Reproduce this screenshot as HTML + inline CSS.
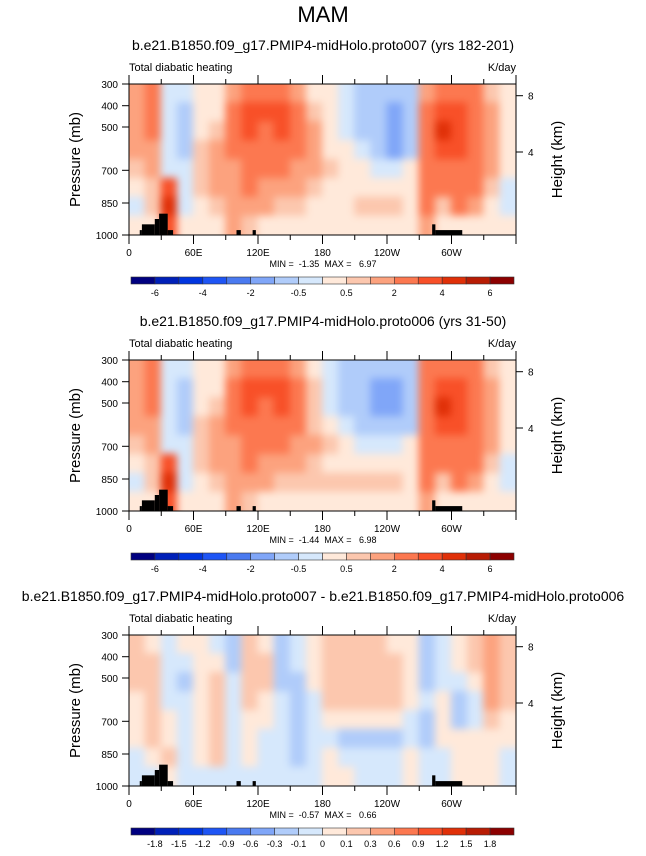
<!DOCTYPE html>
<html><head><meta charset="utf-8"><style>
body{margin:0;background:#fff;font-family:"Liberation Sans",Arial,sans-serif}
svg text{font-family:"Liberation Sans",Arial,sans-serif;fill:#000}
.hm{filter:blur(4px)}
</style></head><body>
<svg id="fig" width="646" height="851" xmlns="http://www.w3.org/2000/svg">
<text x="323" y="22" font-size="22" text-anchor="middle">MAM</text>
</svg>
<script>
const lonEdges=[0,15,30,45,60,75,90,105,120,135,150,165,180,195,210,225,240,255,270,285,300,315,330,345,360];
const xTickLabels=["0","60E","120E","180","120W","60W"];
const pTicks=[300,400,500,700,850,1000];
const hTicks=[8,4];
const levels1=[-6,-5,-4,-3,-2,-1,-0.5,0,0.5,1,2,3,4,5,6];
const cbLabels1=["-6","-4","-2","-0.5","0.5","2","4","6"];
const levels3=[-1.8,-1.5,-1.2,-0.9,-0.6,-0.3,-0.1,0,0.1,0.3,0.6,0.9,1.2,1.5,1.8];
const cbLabels3=["-1.8","-1.5","-1.2","-0.9","-0.6","-0.3","-0.1","0","0.1","0.3","0.6","0.9","1.2","1.5","1.8"];
const data1=[
[1.5,2.2,-0.3,-0.3,0.3,0.3,1.5,2.5,2.5,2,1,0.3,0.3,-0.3,-0.7,-0.7,-0.8,-0.7,1.5,2.5,2.5,2,0.7,0.3],
[1.5,2.2,-0.3,-0.7,0.3,0.3,2,3,3,3.2,2,0.7,0.3,-0.3,-0.7,-0.8,-1.5,-0.8,2,3.2,3,2.5,1.5,0.3],
[1.5,2.2,-0.3,-1,0.3,0.7,2,3,2.5,3.5,2,1,0.3,-0.3,-0.7,-1,-1.5,-0.8,2,4.2,3.2,2.5,1.5,0.3],
[1,1.5,-0.3,-0.7,0.7,1,2,2.5,2.2,2.5,2,1,0.3,0.3,-0.3,-0.7,-1.2,-0.7,2,3.2,3,2.5,1.5,0.3],
[0.7,1,-0.3,-0.3,0.7,1.5,1.5,2.2,2,2,1.5,1,0.7,0.3,0.3,-0.3,-0.3,0.3,2,2.5,2.5,2.2,1,0.3],
[0.3,0.7,3,-0.3,0.7,1,1.5,2,1.5,1.5,1,0.7,0.3,0.3,0.3,0.3,0.3,0.3,2,2,2.5,2,0.7,-0.3],
[-0.3,0.7,4,-0.3,0.3,0.7,1,1,1,0.7,0.7,0.3,0.3,0.3,0.7,0.7,0.7,0.3,2,0.7,2,1,0.3,-0.3],
[0.3,0.3,3,0.3,0.3,0.3,1,0.7,0.3,0.3,0.3,0.3,0.3,0.3,0.3,0.3,0.3,0.3,1,0.3,0.3,0.3,0.3,0.3]];
const data2=[
[1.5,2.2,-0.3,-0.3,0.3,0.3,1.5,2.5,2.5,2,1,0.3,-0.3,-0.7,-0.8,-1,-0.8,-0.7,2,2.5,2.5,2,0.7,0.3],
[1.5,2.2,-0.3,-0.7,0.3,0.3,2,3,3,3.2,2,0.7,-0.3,-0.7,-1,-1.5,-1.2,-0.8,2.5,3.2,3,2.5,1.5,0.3],
[1.5,2.2,-0.3,-1,0.3,0.7,2,3,2.5,3.5,2,0.7,-0.3,-0.7,-1,-1.5,-1.2,-0.8,2.5,4.2,3.2,2.5,1.5,0.3],
[1,1.5,-0.3,-0.7,0.7,1,2,2.5,2.2,2.5,2,0.7,0.3,-0.3,-0.7,-1,-1,-0.7,2,3.2,3,2.5,1.5,0.3],
[0.7,1,-0.3,-0.3,0.7,1.5,1.5,2.2,2,2,1.5,1,0.7,0.3,-0.3,-0.3,-0.3,0.3,2,2.5,2.5,2.2,1,0.3],
[0.3,0.7,3,-0.3,0.7,1,1.5,2,1.5,1.5,1,0.7,0.3,0.3,0.3,0.3,0.3,0.3,2,2,2.5,2,0.7,-0.3],
[-0.3,0.7,4,-0.3,0.3,0.7,1,1,1,0.7,0.7,0.7,0.7,0.7,0.7,0.7,0.7,0.3,2,0.7,2,1,0.3,-0.3],
[0.3,0.3,3,0.3,0.3,0.3,1,0.7,0.3,0.3,0.3,0.3,0.3,0.3,0.3,0.3,0.3,0.3,1,0.3,0.3,0.3,0.3,0.3]];
const data3=[
[0.2,0.05,-0.05,0.05,0.05,-0.05,-0.2,0.2,0.05,-0.2,-0.05,0.05,0.2,0.2,0.2,0.2,0.05,0.05,-0.2,-0.05,0.05,0.2,0.35,0.2],
[0.2,0.2,-0.05,-0.05,0.05,0.05,-0.2,0.2,0.2,-0.3,-0.05,0.05,0.2,0.2,0.2,0.2,0.2,0.05,-0.3,-0.05,0.05,0.2,0.35,0.2],
[0.2,0.2,-0.05,-0.2,0.05,0.2,-0.05,0.2,0.2,-0.2,-0.2,0.05,0.2,0.2,0.2,0.2,0.2,0.05,-0.2,-0.05,-0.05,0.05,0.4,0.2],
[0.05,0.2,-0.05,-0.05,0.05,0.2,-0.05,0.2,0.05,-0.05,-0.2,-0.05,0.2,0.2,0.2,0.2,0.2,0.05,-0.05,0.05,-0.2,-0.05,0.3,0.2],
[0.05,0.2,0.05,-0.05,0.05,0.2,-0.05,0.05,0.05,-0.05,-0.2,-0.05,0.05,0.05,0.05,0.05,0.05,-0.05,-0.2,0.05,-0.2,-0.05,0.2,0.05],
[0.05,0.2,0.05,-0.05,0.05,0.2,-0.05,0.05,-0.05,-0.05,-0.2,-0.05,-0.05,-0.2,-0.2,-0.2,-0.2,-0.05,-0.2,0.05,0.05,0.05,0.05,0.05],
[-0.05,0.05,0.2,-0.05,0.05,0.2,-0.05,0.05,-0.05,-0.05,-0.2,-0.05,0.05,-0.05,-0.05,-0.05,-0.05,0.05,-0.05,-0.05,0.05,0.05,0.05,-0.05],
[-0.05,-0.05,0.05,-0.05,-0.05,-0.05,-0.05,-0.05,-0.05,-0.05,-0.05,-0.05,0.05,0.05,-0.05,-0.05,-0.05,0.05,-0.05,-0.05,0.05,0.05,0.05,-0.05]];
const terrainLon0=[10,12,24,28,36,100,115,282,285];
const terrainLon1=[12,24,28,36,41,104,118,285,310];
const terrainP=[977,950,925,900,977,977,977,950,977];
const colors=["#000080","#0020B8","#0035E0","#1E55F5","#4A7AF0","#80A6F8","#B0CCFA","#D6E8FC","#FFE9DA","#FCC7AE","#FCA27E","#FC7850","#F85028","#E03008","#B81C04","#8C0000"];

const NS="http://www.w3.org/2000/svg";
const svg=document.getElementById('fig');
function mk(tag,attrs,parent){const e=document.createElementNS(NS,tag);for(const k in attrs)e.setAttribute(k,attrs[k]);(parent||svg).appendChild(e);return e;}
function txt(s,attrs,parent){const e=mk('text',attrs,parent);e.textContent=s;return e;}
const X0=129,X1=516,H=151;
function xs(lon){return X0+lon/360*(X1-X0);}
const pKnots=[300,400,500,700,850,1000],yKnots=[0,21.7,43,86.3,119,151];
function ys(p,top){for(let i=0;i<pKnots.length-1;i++){if(p<=pKnots[i+1]){return top+yKnots[i]+(p-pKnots[i])/(pKnots[i+1]-pKnots[i])*(yKnots[i+1]-yKnots[i]);}}return top+H;}
function colorOf(v,lev){let i=0;while(i<lev.length&&v>=lev[i])i++;return colors[i];}

function panel(top,data,lev,cbLab,title,minmax,name){
  const g=mk('g',{});
  
  
  const t=txt(title,{x:323,y:top-34,'font-size':14,'text-anchor':'middle'},g);
  
  
  const t2=txt('Total diabatic heating',{x:129,y:top-13,'font-size':11},g);
  
  
  const t3=txt('K/day',{x:516,y:top-13,'font-size':11,'text-anchor':'end'},g);
  
  
  const cid='c'+top;
  const cp=mk('clipPath',{id:cid},g);mk('rect',{x:X0,y:top,width:X1-X0,height:H},cp);
  const hg=mk('g',{'clip-path':'url(#'+cid+')'},g);
  const hm=mk('g',{'class':'hm'},hg);
  const nr=data.length,rh=H/nr;
  for(let r=0;r<nr;r++)for(let c=0;c<data[r].length;c++){
    let x=xs(lonEdges[c]),w=xs(lonEdges[c+1])-x,y=top+r*rh,h=rh;
    if(c===0){x-=12;w+=12;} if(c===data[r].length-1){w+=12;}
    if(r===0){y-=10;h+=10;} if(r===nr-1){h+=10;}
    const cell=mk('rect',{x:x-0.5,y:y-0.5,width:w+1,height:h+1,fill:colorOf(data[r][c],lev)},hm);
    
    
  }
  for(let i=0;i<terrainP.length;i++){
    const y=ys(terrainP[i],top);
    const tr=mk('rect',{x:xs(terrainLon0[i]),y:y,width:xs(terrainLon1[i])-xs(terrainLon0[i]),height:top+H-y,fill:'#000'},hg);
    
    
  }
  const fr=mk('rect',{x:X0,y:top,width:X1-X0,height:H,fill:'none',stroke:'#000','stroke-width':1},g);
  
  
  for(let lon=0;lon<=360;lon+=30){
    const x=xs(lon),L=lon%60===0?9:5;
    mk('line',{x1:x,x2:x,y1:top+H,y2:top+H+L,stroke:'#000'},g);
    mk('line',{x1:x,x2:x,y1:top,y2:top-L,stroke:'#000'},g);
  }
  xTickLabels.forEach((s,i)=>{const e=txt(s,{x:xs(i*60),y:top+H+21,'font-size':10,'text-anchor':'middle'},g);
    
    });
  pTicks.forEach(p=>{const y=ys(p,top);mk('line',{x1:X0-7,x2:X0,y1:y,y2:y,stroke:'#000'},g);
    const e=txt(String(p),{x:X0-11,y:y+4,'font-size':10,'text-anchor':'end'},g);
    
    });
  hTicks.forEach(h=>{const y=top+(h===8?11.7:68);mk('line',{x1:X1,x2:X1+7,y1:y,y2:y,stroke:'#000'},g);
    const e=txt(String(h),{x:X1+12,y:y+4,'font-size':10},g);
    
    });
  const yl=txt('Pressure (mb)',{x:0,y:0,'font-size':15,'text-anchor':'middle',transform:`translate(80,${top+H/2}) rotate(-90)`},g);
  
  
  const yr=txt('Height (km)',{x:0,y:0,'font-size':15,'text-anchor':'middle',transform:`translate(562,${top+H/2}) rotate(-90)`},g);
  
  
  const mm=txt(minmax,{x:323,y:top+H+32,'font-size':9,'text-anchor':'middle',style:'white-space:pre'},g);
  
  
  const cy=top+H+42,cx0=131,cw=(514-131)/16;
  for(let i=0;i<16;i++){const b=mk('rect',{x:cx0+i*cw,y:cy,width:cw,height:7,fill:colors[i],stroke:'#333','stroke-width':0.6},g);
    
    }
  const step=cbLab.length===8?2:1;
  cbLab.forEach((s,i)=>{const k=step===2?1+2*i:1+i;
    const e=txt(s,{x:cx0+k*cw,y:cy+19,'font-size':9,'text-anchor':'middle'},g);
    
    });
}
panel(84,data1,levels1,cbLabels1,'b.e21.B1850.f09_g17.PMIP4-midHolo.proto007 (yrs 182-201)','MIN =  -1.35  MAX =   6.97','panel-proto007');
panel(360,data2,levels1,cbLabels1,'b.e21.B1850.f09_g17.PMIP4-midHolo.proto006 (yrs 31-50)','MIN =  -1.44  MAX =   6.98','panel-proto006');
panel(635,data3,levels3,cbLabels3,'b.e21.B1850.f09_g17.PMIP4-midHolo.proto007 - b.e21.B1850.f09_g17.PMIP4-midHolo.proto006','MIN =  -0.57  MAX =   0.66','panel-difference');
</script>
</body></html>
